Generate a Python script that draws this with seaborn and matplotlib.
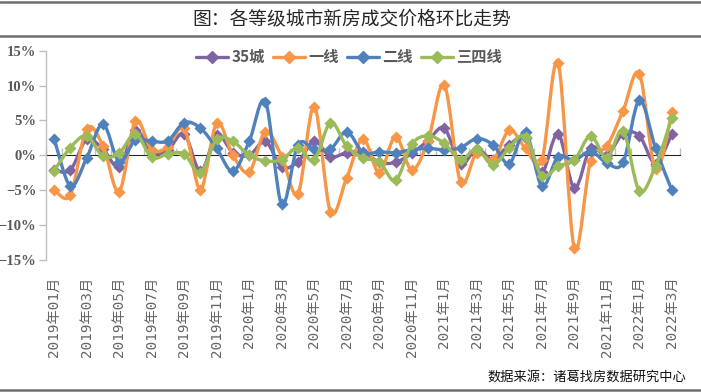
import numpy as np
import pandas as pd
import seaborn as sns
import matplotlib.pyplot as plt
from matplotlib.path import Path
from matplotlib.patches import PathPatch
from matplotlib.lines import Line2D

# 各等级城市新房成交价格环比 (%), 2019年01月 - 2022年3月
months = (['2019年%02d月' % m for m in range(1, 13)]
          + ['2020年%d月' % m for m in range(1, 13)]
          + ['2021年%d月' % m for m in range(1, 13)]
          + ['2022年%d月' % m for m in range(1, 4)])

city35 = [-2.1, -2.1, 2.3, 0.9, -1.6, 3.6, 0.4, 0.8, 3.1, -2.3,
          2.9, 0.4, 0.0, 2.0, -1.7, -0.9, 2.0, -0.2, 0.4, 0.5,
          -1.0, -1.0, 0.3, 2.1, 3.9, -1.2, 0.9, -0.6, 1.5, 2.5,
          -2.4, 3.1, -4.7, 1.1, 0.0, 3.1, 2.8, -1.2, 3.1]
tier1 = [-4.9, -5.7, 3.8, 1.4, -5.2, 4.9, 0.8, 1.2, 3.9, -4.9,
         4.6, 0.0, -2.4, 3.4, -0.2, -5.5, 7.0, -8.1, -3.2, 2.4,
         -2.5, 2.7, -2.1, 2.1, 10.1, -3.8, 0.4, -0.7, 3.6, 1.0,
         -0.7, 13.3, -13.3, -0.8, 1.3, 6.4, 11.7, -2.0, 6.2]
tier2 = [2.4, -4.4, -0.4, 4.5, -0.9, 2.2, 2.0, 2.1, 4.7, 3.9,
         1.0, -2.3, 2.0, 7.7, -7.0, 1.5, 0.9, 0.9, 3.4, 0.4,
         0.5, 0.4, 0.8, 1.0, 0.8, 1.1, 2.4, 1.5, -1.2, 3.4,
         -4.4, -0.2, -0.7, 0.6, -1.1, -1.0, 7.9, 1.0, -5.0]
tier34 = [-2.2, 1.1, 2.8, -0.1, 0.3, 3.1, -0.3, 0.2, 0.2, -2.5,
          2.3, 2.0, 0.0, -0.8, -0.6, 1.1, -0.7, 4.7, 1.3, -0.4,
          -0.9, -3.6, 1.6, 2.8, 1.7, -0.6, 0.9, -1.4, 1.1, 2.7,
          -3.0, -1.5, -0.7, 2.8, -0.4, 3.5, -5.1, -1.5, 5.4]

names = ['35城', '一线', '二线', '三四线']
colors = ['#8064A2', '#F79646', '#4F81BD', '#9BBB59']
series = [city35, tier1, tier2, tier34]

idx = np.arange(len(months))
df = pd.concat([pd.DataFrame({'idx': idx, 'value': v, 'series': n})
                for n, v in zip(names, series)], ignore_index=True)

sns.set_style('white')
plt.rcParams['font.family'] = ['Noto Sans CJK SC', 'DejaVu Sans']


def smooth_path(x, y):
    # Excel式平滑曲线: 贝塞尔控制点由相邻点算出
    n = len(x)
    verts = [(x[0], y[0])]
    codes = [Path.MOVETO]
    for i in range(n - 1):
        a = max(i - 1, 0)
        b = min(i + 2, n - 1)
        c1 = (x[i] + (x[i + 1] - x[a]) / 6, y[i] + (y[i + 1] - y[a]) / 6)
        c2 = (x[i + 1] - (x[b] - x[i]) / 6, y[i + 1] - (y[b] - y[i]) / 6)
        verts += [c1, c2, (x[i + 1], y[i + 1])]
        codes += [Path.CURVE4] * 3
    return Path(verts, codes)


fig = plt.figure(figsize=(7.01, 3.92), dpi=100)
ax = fig.add_axes([46 / 701, 1 - 260 / 392, 634 / 701, 209.3 / 392])

for k, (n, c) in enumerate(zip(names, colors)):
    sub = df[df['series'] == n]
    p = smooth_path(sub['idx'].to_numpy(float), sub['value'].to_numpy(float))
    ax.add_patch(PathPatch(p, facecolor='none', edgecolor=c, lw=2.4,
                           zorder=2 + 2 * k, capstyle='round'))
    sns.scatterplot(data=sub, x='idx', y='value', color=c, marker='D', s=38,
                    edgecolor=c, linewidth=0, legend=False, ax=ax, zorder=3 + 2 * k)

ax.set_xlim(-0.5, len(months) - 0.5)
ax.set_ylim(-15, 15)
ax.set_xlabel('')
ax.set_ylabel('')

yt = np.arange(-15, 16, 5)
ax.set_yticks(yt)
ax.set_yticklabels([('−%d%%' % -v) if v < 0 else '%d%%' % v for v in yt],
                   family='Liberation Serif', fontweight='bold', fontsize=10.5,
                   color='#595959')
ax.tick_params(axis='y', direction='out', length=5, width=1, color='#BFBFBF', pad=2, left=True)

ax.set_xticks(idx[::2])
ax.set_xticklabels(months[::2], rotation=90, fontsize=10.3,
                   family=['DejaVu Sans Mono', 'Noto Sans CJK SC'], color='#666666')
ax.tick_params(axis='x', length=0, pad=12)

for s in ['top', 'right', 'bottom']:
    ax.spines[s].set_visible(False)
ax.spines['left'].set_color('#BFBFBF')
ax.spines['left'].set_linewidth(1)

# 零轴及刻度
zero = ax.secondary_xaxis(0.5)
zero.set_xticks(np.arange(-0.5, len(months), 1))
zero.set_xticklabels([])
zero.tick_params(direction='out', length=5, width=1, color='#BFBFBF')
zero.spines['bottom'].set_color('#BFBFBF')
zero.spines['bottom'].set_linewidth(1.2)

handles = [Line2D([], [], color=c, lw=2.4, marker='D', ms=6.5) for c in colors]
fig.legend(handles, names, loc='center', bbox_to_anchor=(349 / 701, 1 - 57 / 392),
           ncol=4, frameon=False, handlelength=2.1, handletextpad=0.25,
           columnspacing=0.5, prop={'size': 11, 'weight': 'bold'},
           labelcolor='#595959')

fig.text(352 / 701, 1 - 19 / 392, '图：各等级城市新房成交价格环比走势',
         ha='center', va='center', fontsize=13.5, color='#262626')
fig.text(686 / 701, 1 - 377 / 392, '数据来源：诸葛找房数据研究中心',
         ha='right', va='center', fontsize=9.5, color='#111111')

for yy in [2, 36, 390]:
    fig.add_artist(Line2D([0, 1], [1 - yy / 392] * 2, color='#6E6E6E', lw=1.8,
                          transform=fig.transFigure))

fig.savefig('out.png', dpi=100)
